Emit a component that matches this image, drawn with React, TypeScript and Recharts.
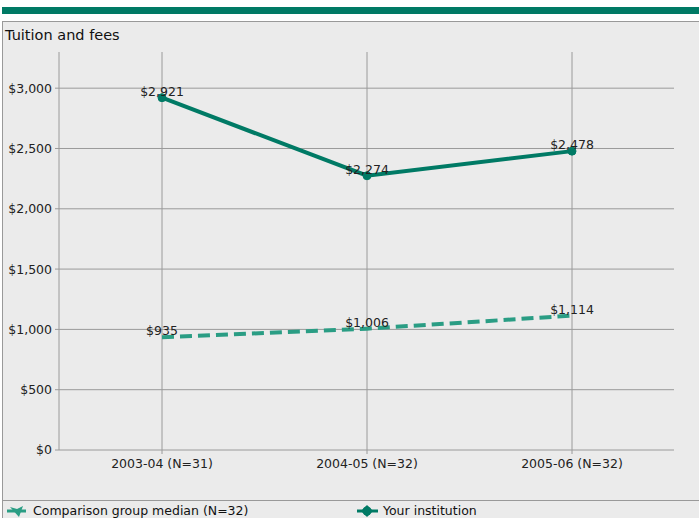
import React from 'react';
import {
  LineChart,
  Line,
  XAxis,
  YAxis,
  ReferenceLine,
  LabelList
} from 'recharts';

const years = ['2003-04 (N=31)', '2004-05 (N=32)', '2005-06 (N=32)'];
const yourInstitution = [2921, 2274, 2478];
const comparisonMedian = [935, 1006, 1114];
const yTicks = [0, 500, 1000, 1500, 2000, 2500, 3000];

const data = years.map((name, i) => ({
  name,
  your: yourInstitution[i],
  comparison: comparisonMedian[i]
}));

const DARK = '#007a65';
const LIGHT = '#2a9d84';
const GRID = '#9a9a9a';
const FONT = '"DejaVu Sans", Verdana, sans-serif';

const money = (v: number) => '$' + v.toLocaleString('en-US');

const App: React.FC = () => {
  return (
    <div
      style={{
        position: 'fixed',
        left: 0,
        top: 0,
        width: 699,
        height: 518,
        background: '#fff',
        overflow: 'hidden',
        fontFamily: FONT
      }}
    >
      {/* top banner */}
      <div style={{ position: 'absolute', left: 2, top: 7, width: 697, height: 7, background: DARK }} />
      {/* panel */}
      <div
        style={{
          position: 'absolute',
          left: 2,
          top: 21,
          width: 697,
          height: 497,
          background: '#ebebeb',
          borderTop: '1px solid #999',
          borderLeft: '1px solid #999',
          boxSizing: 'border-box'
        }}
      />
      <div style={{ position: 'absolute', left: 5, top: 27, fontSize: 14.5, color: '#111' }}>Tuition and fees</div>

      <div style={{ position: 'absolute', left: 0, top: 0 }}>
        <LineChart
          width={699}
          height={518}
          data={data}
          margin={{ top: 52, right: 25, left: 9, bottom: 38 }}
        >
          {yTicks.slice(1).map((t) => (
            <ReferenceLine key={'h' + t} y={t} stroke={GRID} />
          ))}
          {years.map((y) => (
            <ReferenceLine key={'v' + y} x={y} stroke={GRID} />
          ))}
          <XAxis
            dataKey="name"
            padding={{ left: 103, right: 102 }}
            height={30}
            tickSize={4}
            tickMargin={5}
            stroke={GRID}
            tick={{ fill: '#222', fontSize: 12.5, fontFamily: FONT }}
          />
          <YAxis
            width={50}
            domain={[0, 3300]}
            ticks={yTicks}
            tickFormatter={money}
            tickSize={4}
            tickMargin={3}
            stroke={GRID}
            tick={{ fill: '#222', fontSize: 12.5, fontFamily: FONT }}
          />
          <Line
            dataKey="comparison"
            stroke={LIGHT}
            strokeWidth={4}
            strokeDasharray="12 6"
            dot={false}
            isAnimationActive={false}
          >
            <LabelList
              dataKey="comparison"
              position="top"
              offset={2}
              formatter={(v: any) => money(Number(v))}
              style={{ fill: '#222', fontSize: 12.5, fontFamily: FONT }}
            />
          </Line>
          <Line
            dataKey="your"
            stroke={DARK}
            strokeWidth={4}
            dot={{ r: 4, fill: DARK, stroke: DARK, strokeWidth: 1 }}
            isAnimationActive={false}
          >
            <LabelList
              dataKey="your"
              position="top"
              offset={2}
              formatter={(v: any) => money(Number(v))}
              style={{ fill: '#222', fontSize: 12.5, fontFamily: FONT }}
            />
          </Line>
        </LineChart>
      </div>

      {/* legend */}
      <div style={{ position: 'absolute', left: 2, top: 500, width: 697, height: 1, background: '#999' }} />
      <div style={{ position: 'absolute', left: 6, top: 503, display: 'flex', alignItems: 'center', fontSize: 12.5, color: '#111' }}>
        <svg width={24} height={14}>
          <line x1={1} y1={7} x2={22} y2={7} stroke={LIGHT} strokeWidth={3} strokeDasharray="8 3" />
          <path d="M4 3 L11 5 L17 2 L13 13 Z" fill={LIGHT} />
        </svg>
        <span style={{ marginLeft: 3 }}>Comparison group median (N=32)</span>
      </div>
      <div style={{ position: 'absolute', left: 356, top: 503, display: 'flex', alignItems: 'center', fontSize: 12.5, color: '#111' }}>
        <svg width={24} height={14}>
          <line x1={1} y1={7} x2={22} y2={7} stroke={DARK} strokeWidth={3} />
          <path d="M11 1 L17 7 L11 13 L5 7 Z" fill={DARK} />
          <circle cx={11} cy={7} r={4.5} fill={DARK} />
        </svg>
        <span style={{ marginLeft: 3 }}>Your institution</span>
      </div>
    </div>
  );
};

export default App;
